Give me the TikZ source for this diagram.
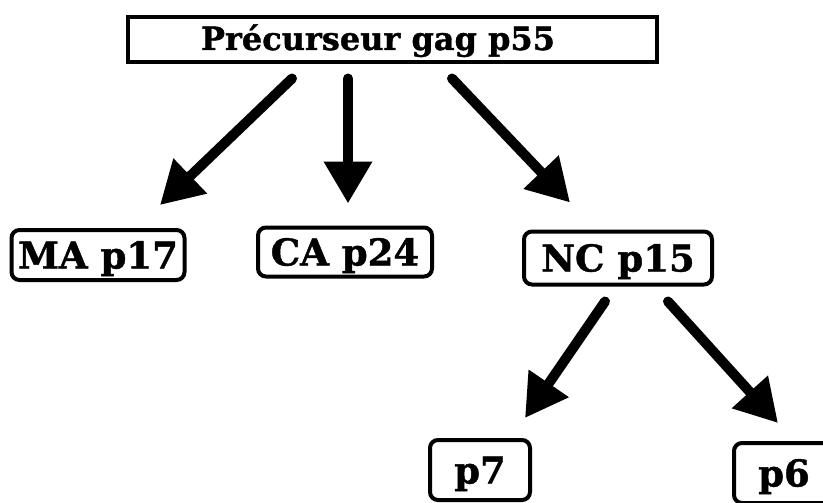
\documentclass[tikz,border=0pt]{standalone}
\usepackage{fontspec}
\setmainfont{DejaVu Serif}[BoldFeatures={FakeBold=1.2}]
\usetikzlibrary{arrows.meta}
\begin{document}
\begin{tikzpicture}[x=1pt,y=-1pt,
  topbox/.style={draw, line width=4pt, inner sep=0pt, minimum width=529pt, minimum height=45pt,
    font=\bfseries\fontsize{32}{34}\selectfont, text height=25pt, text depth=5pt},
  subbox/.style={draw, line width=4pt, rounded corners=8pt, inner sep=0pt,
    font=\bfseries\fontsize{37}{39}\selectfont, text height=29pt, text depth=2pt},
  bigarrow/.style={line width=10pt, line cap=round, -{Triangle[length=42pt,width=46pt]}}]
  \useasboundingbox (0,0) rectangle (823,503);
  % protein boxes
  \node[topbox] (gag) at (392,40) {\hspace*{-28pt}Précurseur gag p55};
  \node[subbox, minimum width=173pt, minimum height=50pt] (ma) at (98,255) {MA p17};
  \node[subbox, minimum width=174pt, minimum height=49pt] (ca) at (345,252) {CA p24};
  \node[subbox, minimum width=188pt, minimum height=53pt] (nc) at (618,258) {NC p15};
  \node[subbox, minimum width=100pt, minimum height=60pt] (p7) at (480,470) {p7};
  \node[subbox, minimum width=100pt, minimum height=60pt] (p6) at (784,473) {p6};
  % cleavage arrows
  \draw[bigarrow] ([xshift=-100pt,yshift=-14pt]gag.south) -- ([xshift=62pt,yshift=23pt]ma.north);
  \draw[bigarrow] ([xshift=-44pt,yshift=-14pt]gag.south) -- ([xshift=3pt,yshift=22pt]ca.north);
  \draw[bigarrow] ([xshift=60pt,yshift=-14pt]gag.south) -- ([xshift=-48pt,yshift=27pt]nc.north);
  \draw[bigarrow] ([xshift=-13pt,yshift=-15pt]nc.south) -- ([xshift=45pt,yshift=20pt]p7.north);
  \draw[bigarrow] ([xshift=50pt,yshift=-15pt]nc.south) -- ([xshift=-6pt,yshift=18pt]p6.north);
\end{tikzpicture}
\end{document}
